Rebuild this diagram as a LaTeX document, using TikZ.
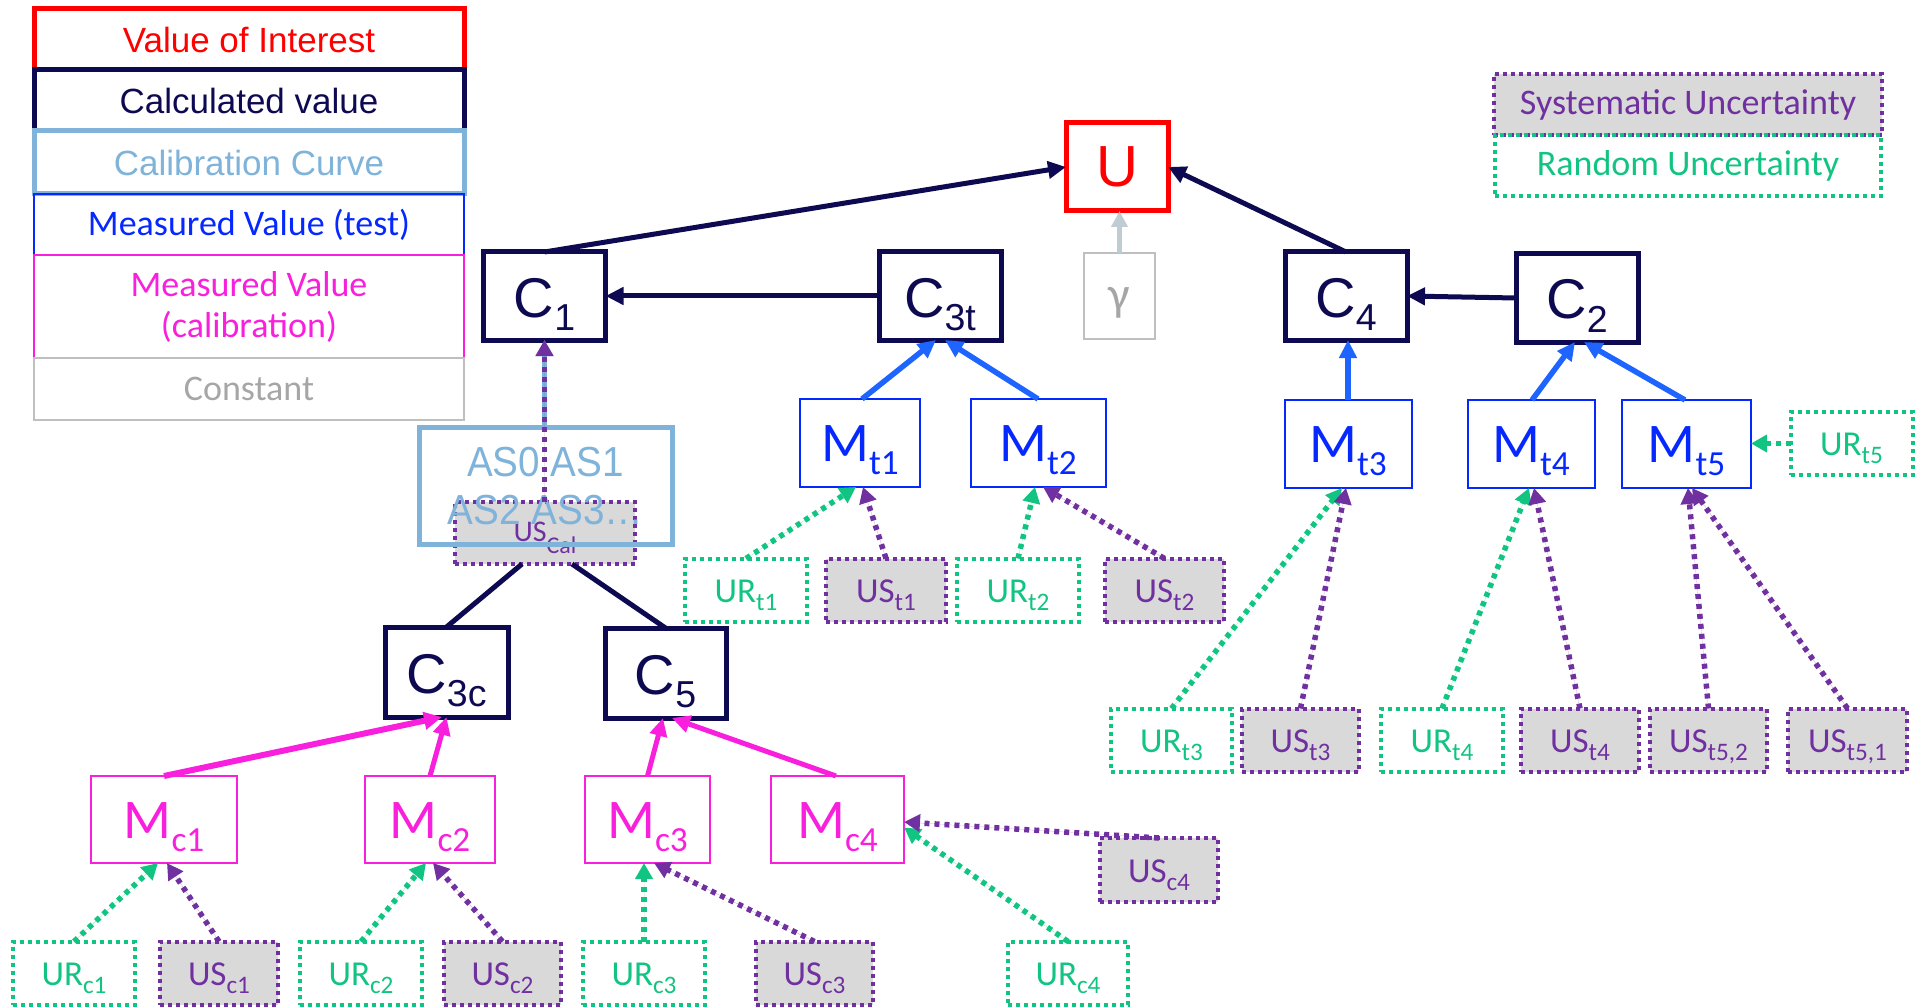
\documentclass[tikz,border=0pt]{standalone}
\usepackage{fontspec}
\usepackage{graphicx}
\usetikzlibrary{arrows.meta}
\newfontfamily\ar{Liberation Sans}
\newfontfamily\arn[FakeStretch=0.92]{Liberation Sans}
\newfontfamily\cb{Carlito}
\newcommand\fs[1]{\fontsize{#1}{#1}\selectfont}
\newcommand\sbs[2][0.72]{\raisebox{-0.24em}{\scalebox{#1}{#2}}}
\definecolor{navy}{RGB}{14,10,82}
\definecolor{vred}{RGB}{255,0,0}
\definecolor{lblue}{RGB}{127,179,218}
\definecolor{mblue}{RGB}{5,40,255}
\definecolor{ablue}{RGB}{30,100,255}
\definecolor{mag}{RGB}{248,32,220}
\definecolor{cgray}{RGB}{166,166,166}
\definecolor{bgray}{RGB}{191,191,191}
\definecolor{purp}{RGB}{112,48,160}
\definecolor{grn}{RGB}{18,196,130}
\definecolor{sgray}{RGB}{217,217,217}
\definecolor{garrow}{RGB}{192,204,212}
\begin{document}
\begin{tikzpicture}[x=1pt,y=-1pt,
  base/.style={rectangle, draw, inner sep=0pt, outer sep=0pt},
  lg/.style={base, minimum width=430pt},
  cbox/.style={base, draw=navy, line width=5pt, minimum width=122pt, minimum height=88pt, text=navy, font=\ar\fs{56}, text height=42pt, text depth=0pt},
  mtbox/.style={base, draw=mblue, line width=2pt, minimum height=88pt, text=mblue, font=\cb\fs{56}, text height=37pt, text depth=0pt},
  mcbox/.style={base, draw=mag, line width=2pt, minimum height=87pt, text=mag, font=\cb\fs{56}, text height=37pt, text depth=0pt},
  urbox/.style={base, draw=grn, line width=4pt, dash pattern=on 4pt off 4pt, minimum height=63pt, text=grn, font=\cb\fs{35}, text height=24pt, text depth=0pt},
  usbox/.style={urbox, draw=purp, fill=sgray, text=purp},
  navyarr/.style={draw=navy, line width=5pt, -{Triangle[length=18pt,width=17pt]}},
  bluearr/.style={draw=ablue, fill=ablue, line width=5.5pt, -{Triangle[length=18pt,width=17pt]}},
  magarr/.style={draw=mag, fill=mag, line width=5pt, -{Triangle[length=18pt,width=17pt]}},
  garr/.style={draw=grn, fill=grn, line width=5.5pt, dash pattern=on 5pt off 5pt, -{Triangle[length=16pt,width=17pt]}},
  parr/.style={garr, draw=purp, fill=purp},
  navyline/.style={draw=navy, line width=5pt}
]
\useasboundingbox (0,0) rectangle (1925,1008);

% left legend
\node[lg, draw=vred, line width=5pt, minimum height=61pt, text=vred, font=\ar\fs{35}] (lVoI) at (249,39.5) {Value of Interest};
\node[lg, draw=navy, line width=5pt, minimum height=61pt, text=navy, font=\ar\fs{35}] (lCalc) at (249,100.5) {Calculated value};
\node[lg, draw=lblue, line width=5pt, minimum height=63pt, text=lblue, font=\ar\fs{35}] (lCal) at (249,162.5) {Calibration Curve};
\node[lg, draw=mblue, line width=2pt, minimum height=61pt, text=mblue, font=\cb\fs{36}] (lMt) at (249,224.5) {Measured Value (test)};
\node[lg, draw=mag, line width=2pt, minimum height=103pt, text=mag, font=\cb\fontsize{36}{41}\selectfont, align=center] (lMc) at (249,306.5) {Measured Value\\(calibration)};
\node[lg, draw=bgray, line width=2.5pt, minimum height=62pt, text=cgray, font=\cb\fs{36}] (lCon) at (249,389) {Constant};

% right legend
\node[base, draw=purp, fill=sgray, line width=4pt, dash pattern=on 4pt off 4pt, minimum width=388pt, minimum height=61pt, text=purp, font=\cb\fs{36}] (lSys) at (1688,104.5) {Systematic Uncertainty};
\node[base, draw=grn, line width=4pt, dash pattern=on 4pt off 4pt, minimum width=386pt, minimum height=61pt, text=grn, font=\cb\fs{36}] (lRand) at (1688,165.5) {Random Uncertainty};

% top level
\node[base, draw=vred, line width=5pt, minimum width=102pt, minimum height=88pt, text=vred, font=\ar\fs{58}] (U) at (1117,167) {U};
\node[base, draw=bgray, line width=2.5pt, minimum width=71pt, minimum height=86pt, text=cgray, font=\cb\fs{48}, text height=30pt, text depth=0pt] (g) at (1119.5,296) {γ};

\node[cbox] (C1) at (544.5,296) {C\sbs[0.67]{1}};
\node[cbox] (C3t) at (940,296) {C\sbs[0.67]{3t}};
\node[cbox] (C4) at (1346,296) {C\sbs[0.67]{4}};
\node[cbox] (C2) at (1577,298) {C\sbs[0.67]{2}};
\node[cbox, minimum width=123pt, minimum height=90pt] (C3c) at (446.5,672) {C\sbs[0.67]{3c}};
\node[cbox, minimum width=121pt, minimum height=90pt] (C5) at (665.5,673) {C\sbs[0.67]{5}};

% test measurements
\node[mtbox, minimum width=120pt] (Mt1) at (860,443) {M\sbs[0.63]{t1}};
\node[mtbox, minimum width=135pt] (Mt2) at (1038,443) {M\sbs[0.63]{t2}};
\node[mtbox, minimum width=127pt] (Mt3) at (1348,444) {M\sbs[0.63]{t3}};
\node[mtbox, minimum width=127pt] (Mt4) at (1531,444) {M\sbs[0.63]{t4}};
\node[mtbox, minimum width=129pt] (Mt5) at (1686.5,444) {M\sbs[0.63]{t5}};
\node[urbox, minimum width=122pt] (URt5) at (1851.5,443.5) {UR\sbs{t5}};

% calibration curve
\node[usbox, minimum width=180pt, minimum height=62pt, font=\cb\fs{30}, text height=16pt] (USCal) at (545,533) {US\raisebox{-12pt}{\scalebox{0.8}{Cal}}};
\node[base, draw=lblue, line width=5pt, minimum width=253pt, minimum height=117pt, text=lblue, font=\arn\fontsize{42}{48}\selectfont, align=center] (AS) at (545.5,486) {AS0 AS1\\AS2 AS3…};

% uncertainty row t1/t2
\node[urbox, minimum width=122pt] (URt1) at (746,590) {UR\sbs{t1}};
\node[usbox, minimum width=120pt] (USt1) at (886,590) {US\sbs{t1}};
\node[urbox, minimum width=122pt] (URt2) at (1018,590) {UR\sbs{t2}};
\node[usbox, minimum width=119pt] (USt2) at (1164.5,590) {US\sbs{t2}};

% uncertainty row t3..t5
\node[urbox, minimum width=121pt] (URt3) at (1171.5,740) {UR\sbs{t3}};
\node[usbox, minimum width=117pt] (USt3) at (1300.5,740) {US\sbs{t3}};
\node[urbox, minimum width=122pt] (URt4) at (1442,740) {UR\sbs{t4}};
\node[usbox, minimum width=118pt] (USt4) at (1580,740) {US\sbs{t4}};
\node[usbox, minimum width=117pt] (USt52) at (1708.5,740) {US\sbs{t5,2}};
\node[usbox, minimum width=119pt] (USt51) at (1847.5,740) {US\sbs{t5,1}};

% calibration measurements
\node[mcbox, minimum width=146pt] (Mc1) at (164,819.5) {M\sbs[0.63]{c1}};
\node[mcbox, minimum width=130pt] (Mc2) at (430,819.5) {M\sbs[0.63]{c2}};
\node[mcbox, minimum width=125pt] (Mc3) at (647.5,819.5) {M\sbs[0.63]{c3}};
\node[mcbox, minimum width=133pt] (Mc4) at (837.5,819.5) {M\sbs[0.63]{c4}};
\node[usbox, minimum width=118pt, minimum height=64pt] (USc4) at (1159,870) {US\sbs{c4}};

% bottom row
\node[urbox, minimum width=122pt] (URc1) at (74,973) {UR\sbs{c1}};
\node[usbox, minimum width=118pt] (USc1) at (219,973) {US\sbs{c1}};
\node[urbox, minimum width=122pt] (URc2) at (361,973) {UR\sbs{c2}};
\node[usbox, minimum width=117pt] (USc2) at (502.5,973) {US\sbs{c2}};
\node[urbox, minimum width=122pt] (URc3) at (644,973) {UR\sbs{c3}};
\node[usbox, minimum width=117pt] (USc3) at (814.5,973) {US\sbs{c3}};
\node[urbox, minimum width=120pt] (URc4) at (1068,973) {UR\sbs{c4}};

% navy connectors
\draw[navyarr] (C1.north) -- (U.west);
\draw[navyarr] (C4.north) -- (U.east);
\draw[navyarr] (C3t.west) -- (C1.east);
\draw[navyarr] (C2.west) -- (C4.east);
\draw[draw=garrow, fill=garrow, line width=5pt, -{Triangle[length=16pt,width=16pt]}] (g.north) -- (g.north |- U.south);
\draw[navyline] ([xshift=-23pt]USCal.south) -- (C3c.north);
\draw[navyline] ([xshift=27pt]USCal.south) -- (C5.north);

% blue connectors
\draw[bluearr] ([xshift=2pt]Mt1.north) -- ([xshift=-4pt]C3t.south);
\draw[bluearr] (Mt2.north) -- ([xshift=5pt]C3t.south);
\draw[bluearr] (Mt3.north) -- (C4.south -| Mt3.north);
\draw[bluearr] ([xshift=1pt]Mt4.north) -- ([xshift=-2pt]C2.south);
\draw[bluearr] ([xshift=-1.5pt]Mt5.north) -- ([xshift=7pt]C2.south);

% magenta connectors
\draw[magarr, line width=6pt] (Mc1.north) -- ([xshift=-4.5pt]C3c.south);
\draw[magarr] (Mc2.north) -- (C3c.south);
\draw[magarr] (Mc3.north) -- ([xshift=-2.5pt]C5.south);
\draw[magarr] ([xshift=-1.5pt]Mc4.north) -- ([xshift=6.5pt]C5.south);

% calibration curve to C1
\draw[draw=lblue, fill=lblue, line width=5pt, -{Triangle[length=16pt,width=17pt]}] (C1.south |- AS.north) -- (C1.south);
\draw[parr] (C1.south |- USCal.north) -- (C1.south);

% uncertainty connectors
\draw[garr] (URt5.west) -- (Mt5.east |- URt5.west);
\draw[garr] (URt1.north) -- ([xshift=-4pt]Mt1.south);
\draw[parr] (USt1.north) -- ([xshift=3pt]Mt1.south);
\draw[garr] (URt2.north) -- ([xshift=-3pt]Mt2.south);
\draw[parr] (USt2.north) -- ([xshift=5pt]Mt2.south);
\draw[garr] (URt3.north) -- ([xshift=-6pt]Mt3.south);
\draw[parr] (USt3.north) -- ([xshift=-2pt]Mt3.south);
\draw[garr] (URt4.north) -- ([xshift=-2pt]Mt4.south);
\draw[parr] (USt4.north) -- ([xshift=3pt]Mt4.south);
\draw[parr] (USt52.north) -- ([xshift=1.5pt]Mt5.south);
\draw[parr] (USt51.north) -- ([xshift=5.5pt]Mt5.south);

\draw[garr] (URc1.north) -- ([xshift=-6pt]Mc1.south);
\draw[parr] (USc1.north) -- ([xshift=3pt]Mc1.south);
\draw[garr] (URc2.north) -- ([xshift=-4pt]Mc2.south);
\draw[parr] (USc2.north) -- ([xshift=3pt]Mc2.south);
\draw[garr] (URc3.north) -- (URc3.north |- Mc3.south);
\draw[parr] (USc3.north) -- ([xshift=6.5pt]Mc3.south);
\draw[garr] (URc4.north) -- ([yshift=-8pt]Mc4.east);
\draw[parr] (USc4.north) -- ([yshift=-2.5pt]Mc4.east);
\end{tikzpicture}
\end{document}
